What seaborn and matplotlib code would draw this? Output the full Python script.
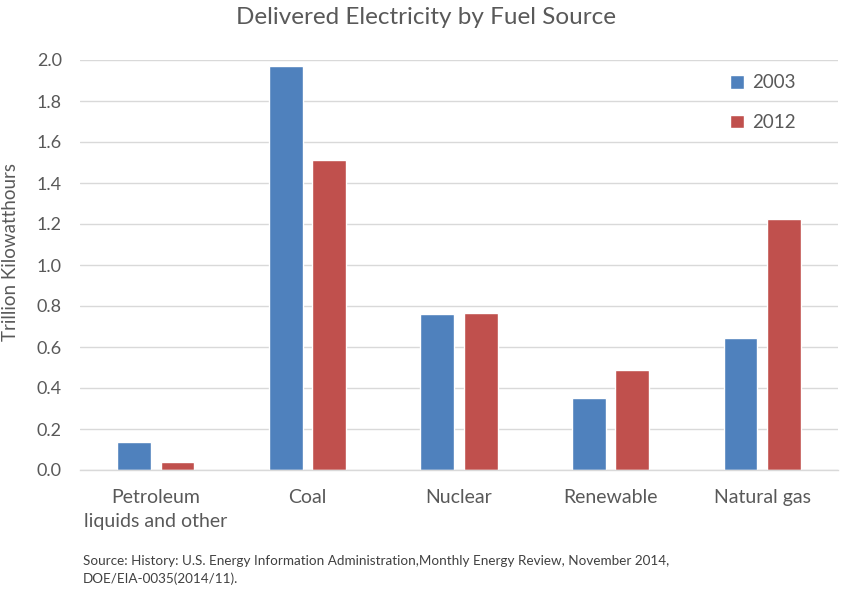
import matplotlib
matplotlib.use("Agg")
import matplotlib.pyplot as plt
import seaborn as sns
import pandas as pd

categories = ["Petroleum\nliquids and other", "Coal", "Nuclear", "Renewable", "Natural gas"]
years = ["2003", "2012"]
values_2003 = [0.135, 1.97, 0.761, 0.351, 0.644]
values_2012 = [0.039, 1.512, 0.766, 0.488, 1.224]
yticks = [0.0, 0.2, 0.4, 0.6, 0.8, 1.0, 1.2, 1.4, 1.6, 1.8, 2.0]

df = pd.DataFrame({
    "category": categories * 2,
    "year": [years[0]] * len(categories) + [years[1]] * len(categories),
    "value": values_2003 + values_2012,
})

sns.set_theme(style="white")
plt.rcParams["font.family"] = ["Lato", "DejaVu Sans"]
txt = "#595959"

fig = plt.figure(figsize=(8.52, 5.92), dpi=100)
ax = fig.add_axes([80 / 852, 1 - 470 / 592, 758 / 852, 410 / 592])

sns.barplot(data=df, x="category", y="value", hue="year", order=categories,
            hue_order=years, palette=["#4F81BD", "#C0504D"], width=0.572,
            gap=0.217, saturation=1, ax=ax, legend=True)

ax.set_xlim(-0.5, 4.5)
ax.set_ylim(0, 2.0)
ax.set_yticks(yticks)
ax.set_yticklabels([f"{t:.1f}" for t in yticks])
ax.yaxis.grid(True, color="#D9D9D9", linewidth=1)
ax.set_axisbelow(True)
for s in ["top", "right", "left"]:
    ax.spines[s].set_visible(False)
ax.spines["bottom"].set_color("#D9D9D9")
ax.spines["bottom"].set_linewidth(1)
ax.tick_params(axis="both", length=0, colors=txt, labelsize=13)
ax.tick_params(axis="y", pad=13)
ax.tick_params(axis="x", pad=14, labelsize=14)
for lab in ax.get_xticklabels():
    lab.set_linespacing(1.5)
ax.set_xlabel("")
ax.set_ylabel("Trillion Kilowatthours", color=txt, fontsize=13.5)
ax.yaxis.set_label_coords(-(80 - 19) / 758, (470 - 252) / 410)

leg = ax.legend(loc="upper left", bbox_to_anchor=(0.847, 0.983), frameon=False,
                fontsize=13.5, handlelength=0.75, handleheight=0.75,
                handletextpad=0.45, labelspacing=1.2, borderaxespad=0)
for t in leg.get_texts():
    t.set_color(txt)

fig.text(0.5, 1 - 18 / 592, "Delivered Electricity by Fuel Source", ha="center",
         va="center", fontsize=17.5, color=txt)
fig.text(83 / 852, 1 - 561 / 592,
         "Source: History: U.S. Energy Information Administration,Monthly Energy Review, November 2014,",
         ha="left", va="center", fontsize=9.7, color="#404040")
fig.text(83 / 852, 1 - 579 / 592, "DOE/EIA-0035(2014/11).",
         ha="left", va="center", fontsize=9.7, color="#404040")

fig.savefig("out.png", dpi=100)
